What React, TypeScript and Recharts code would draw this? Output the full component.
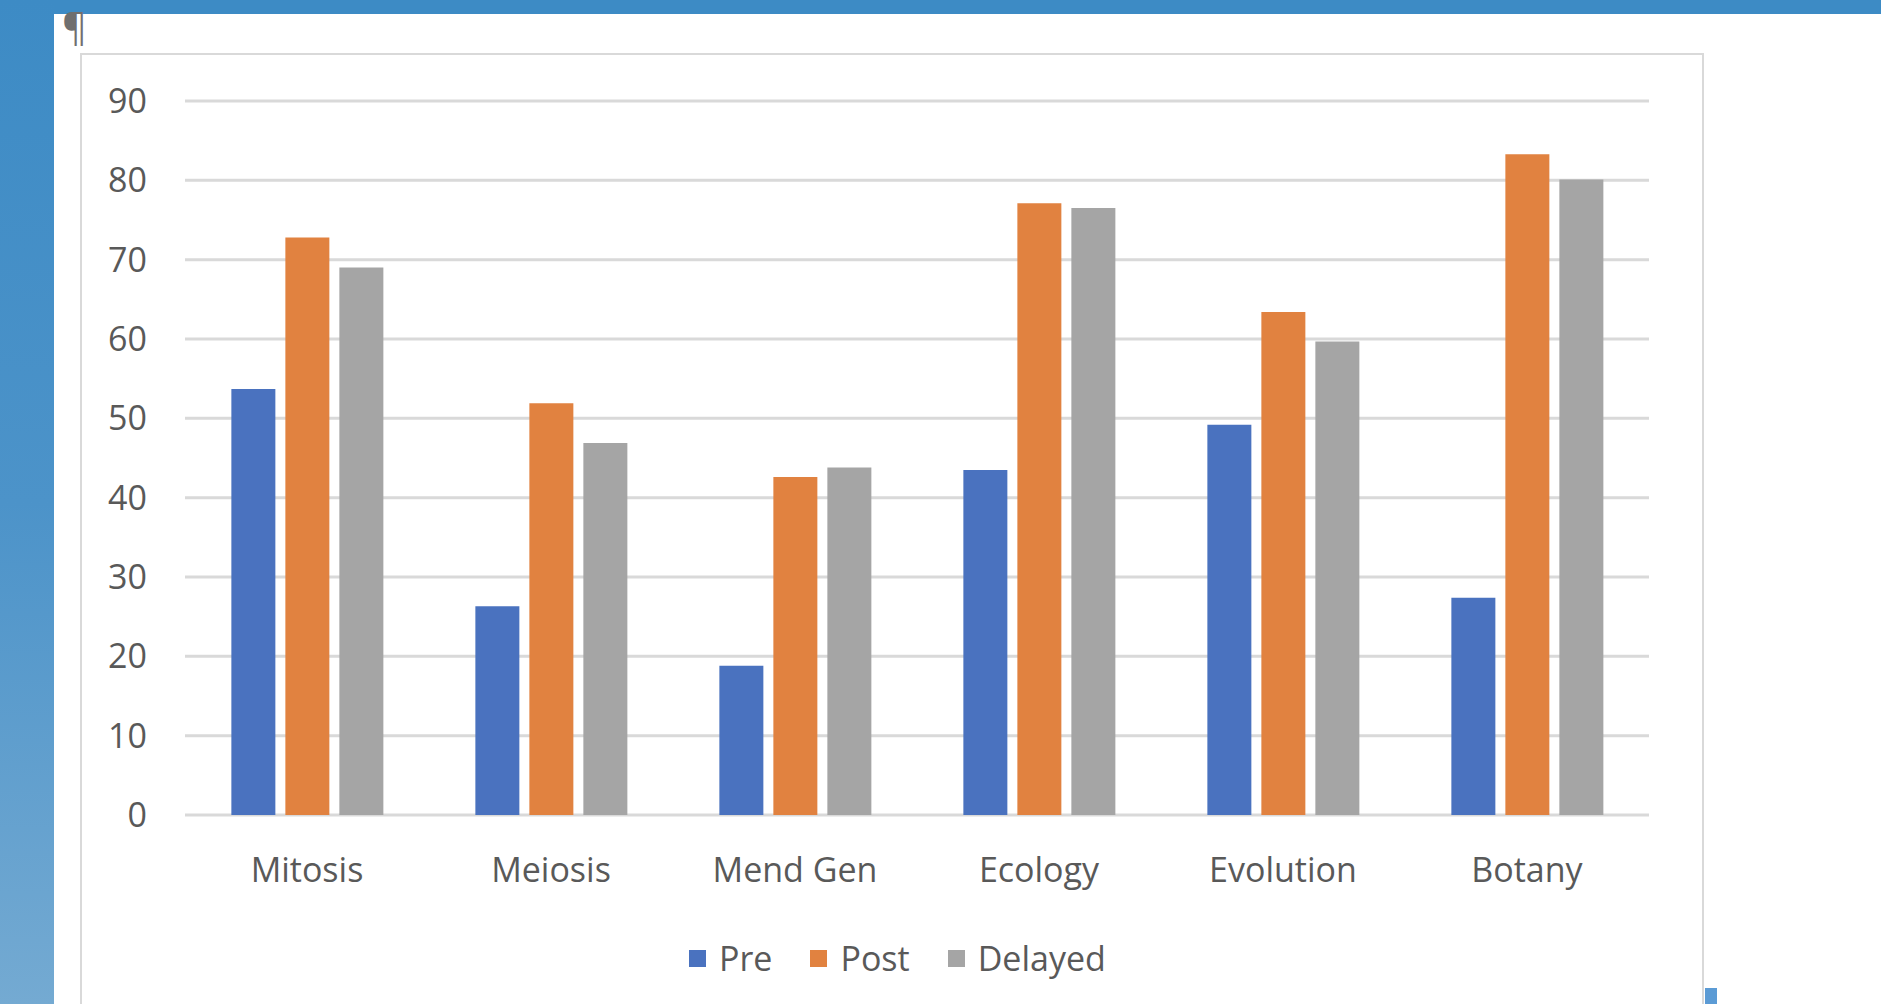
import { BarChart, Bar, XAxis, YAxis, CartesianGrid } from "recharts";

const topics = ["Mitosis", "Meiosis", "Mend Gen", "Ecology", "Evolution", "Botany"];
const pre = [53.7, 26.3, 18.8, 43.5, 49.2, 27.4];
const post = [72.8, 51.9, 42.6, 77.1, 63.4, 83.3];
const delayed = [69.0, 46.9, 43.8, 76.5, 59.7, 80.1];
const yTicks = [0, 10, 20, 30, 40, 50, 60, 70, 80, 90];

const seriesList = [
  { key: "pre", name: "Pre", color: "#4A72BF" },
  { key: "post", name: "Post", color: "#E18240" },
  { key: "delayed", name: "Delayed", color: "#A5A5A5" },
];

const data = topics.map((topic, i) => ({
  topic,
  pre: pre[i],
  post: post[i],
  delayed: delayed[i],
}));

const FONT = "'Open Sans', sans-serif";
const TEXT = "#595959";

const LegendRow = () => (
  <div
    style={{
      position: "absolute",
      left: 689,
      top: 941,
      display: "flex",
      alignItems: "center",
      fontFamily: FONT,
      fontSize: 34,
      lineHeight: "34px",
      color: TEXT,
    }}
  >
    {seriesList.map((s) => (
      <div key={s.key} style={{ display: "flex", alignItems: "center", marginRight: 38 }}>
        <span style={{ width: 17, height: 17, background: s.color, marginRight: 13, display: "inline-block" }} />
        <span>{s.name}</span>
      </div>
    ))}
  </div>
);

export default function App() {
  return (
    <div
      style={{
        position: "absolute",
        left: 0,
        top: 0,
        width: 1881,
        height: 1004,
        overflow: "hidden",
        background: "#ffffff",
      }}
    >
      {/* slide background bits */}
      <div style={{ position: "absolute", left: 0, top: 0, width: 1881, height: 14, background: "#3D8BC5" }} />
      <div
        style={{
          position: "absolute",
          left: 0,
          top: 0,
          width: 54,
          height: 1004,
          background: "linear-gradient(180deg, #3D8BC5 0%, #4C93C9 50%, #74AAD2 100%)",
        }}
      />
      <div style={{ position: "absolute", left: 62, top: 4, fontFamily: FONT, fontSize: 38, color: "#6f6f6f", lineHeight: "44px" }}>
        ¶
      </div>
      <div style={{ position: "absolute", left: 1705, top: 988, width: 12, height: 16, background: "#5B9BD5" }} />

      {/* chart frame */}
      <div
        style={{
          position: "absolute",
          left: 80,
          top: 53,
          width: 1624,
          height: 1000,
          border: "2px solid #D9D9D9",
          boxSizing: "border-box",
          background: "#ffffff",
        }}
      />

      <div style={{ position: "absolute", left: 80, top: 53 }}>
        <BarChart
          width={1624}
          height={940}
          data={data}
          margin={{ top: 48, right: 55, left: 0, bottom: 78 }}
          barCategoryGap="19%"
          barGap={10}
        >
          <CartesianGrid vertical={false} stroke="#D9D9D9" strokeWidth={3} />
          <XAxis
            dataKey="topic"
            height={100}
            axisLine={false}
            tickLine={false}
            tickSize={0}
            tickMargin={43}
            tick={{ fill: TEXT, fontSize: 34, fontFamily: FONT }}
          />
          <YAxis
            width={105}
            domain={[0, 90]}
            ticks={yTicks}
            axisLine={false}
            tickLine={false}
            tickSize={0}
            tickMargin={38}
            tick={{ fill: TEXT, fontSize: 34, fontFamily: FONT }}
          />
          {seriesList.map((s) => (
            <Bar key={s.key} dataKey={s.key} name={s.name} fill={s.color} isAnimationActive={false} />
          ))}
        </BarChart>
      </div>

      <LegendRow />
    </div>
  );
}
